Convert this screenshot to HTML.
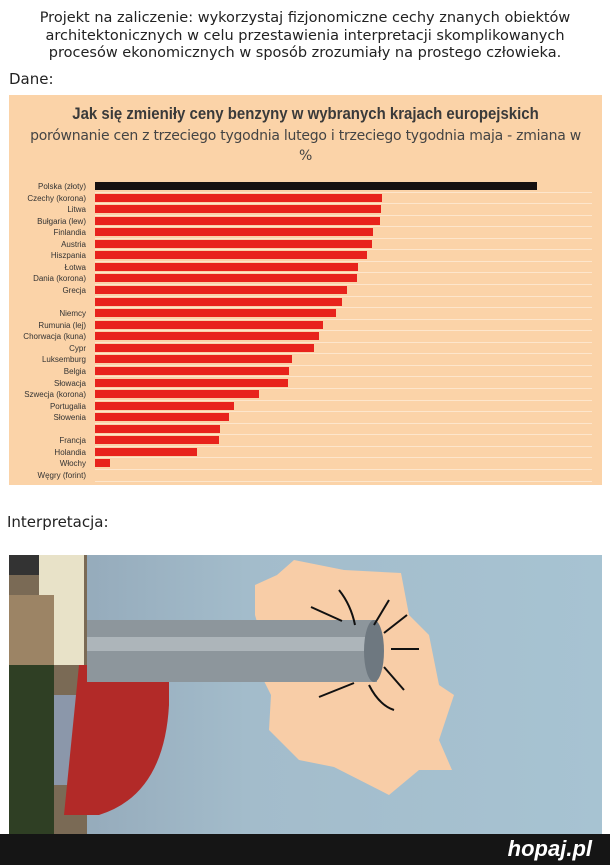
<!DOCTYPE html>
<html><head><meta charset="utf-8"><style>
body{margin:0;width:610px;height:865px;background:#fff;position:relative;overflow:hidden;font-family:"DejaVu Sans","Liberation Sans",sans-serif;}
.t{position:absolute;left:0;width:610px;text-align:center;font-size:14.5px;color:#222;line-height:17.5px;top:10px}
.lab{position:absolute;font-size:15px;color:#222}
#chart{position:absolute;left:9px;top:95px;width:593px;height:390px;background:#fbd3a8}
.h1{position:absolute;left:0;width:593px;text-align:center;top:9px;font:bold 17px "Liberation Sans",sans-serif;color:#3a3a3a;transform:scaleX(.88)}
.h2{position:absolute;left:0;width:593px;text-align:center;top:31px;font-size:14px;line-height:20px;color:#444;letter-spacing:-0.25px}
.row{position:absolute;left:0;height:11px;width:593px}
.row span{position:absolute;right:516px;font:8px "Liberation Sans",sans-serif;color:#333;top:1px;white-space:nowrap}
.row i{position:absolute;left:86px;top:1px;height:8px;background:#e8231c}
.row b{position:absolute;left:86px;right:10px;top:10.5px;height:1px;background:#fde6cc}
#photo{position:absolute;left:9px;top:555px;width:593px;height:280px;background:linear-gradient(90deg,#8fa3b4 0%,#a3bccb 40%,#a7c3d2 100%)}
#bar{position:absolute;left:0;top:834px;width:610px;height:31px;background:#151515}
</style></head><body>
<div class="t">Projekt na zaliczenie: wykorzystaj fizjonomiczne cechy znanych obiektów<br>architektonicznych w celu przestawienia interpretacji skomplikowanych<br>procesów ekonomicznych w sposób zrozumiały na prostego człowieka.</div>
<div class="lab" style="left:9px;top:70px">Dane:</div>
<div id="chart">
<div class="h1">Jak się zmieniły ceny benzyny w wybranych krajach europejskich</div>
<div class="h2">porównanie cen z trzeciego tygodnia lutego i trzeciego tygodnia maja - zmiana w<br>%</div>
</div>
<div class="lab" style="left:7px;top:513px">Interpretacja:</div>
<div id="photo">
<svg width="593" height="280" viewBox="0 0 593 280">
<rect x="0" y="0" width="78" height="280" fill="#7a6a55"/>
<rect x="0" y="0" width="30" height="20" fill="#333"/>
<rect x="30" y="0" width="45" height="110" fill="#e8e2c8"/>
<rect x="0" y="40" width="45" height="70" fill="#9c8465"/>
<rect x="0" y="110" width="45" height="170" fill="#2f3f24"/>
<rect x="45" y="140" width="30" height="90" fill="#8b97aa"/>
<path d="M70 110 H160 V150 Q155 240 90 260 H55 Z" fill="#b22a28"/>
<path d="M246 30 L268 20 L285 5 L335 15 L392 18 L400 60 L420 80 L430 130 L445 140 L430 185 L443 215 L410 215 L380 240 L325 212 L290 205 L260 175 L262 140 L252 120 L256 95 L246 60 Z" fill="#f8cda7"/>
<rect x="78" y="65" width="290" height="62" fill="#8d969c"/>
<rect x="78" y="82" width="290" height="14" fill="#c3cace" opacity=".6"/>
<ellipse cx="365" cy="96" rx="10" ry="31" fill="#6e7880"/>
<g stroke="#111" stroke-width="2" fill="none">
<path d="M330 35 Q342 50 346 70"/><path d="M302 52 L333 66"/><path d="M380 45 L365 70"/><path d="M398 60 L375 78"/>
<path d="M382 94 L410 94"/><path d="M375 112 L395 135"/><path d="M360 130 Q370 150 385 155"/><path d="M345 128 L310 142"/>
</g>
</svg>
</div>
<div id="bar"><span style="position:absolute;right:18px;top:2px;font:italic bold 22px 'Liberation Sans',sans-serif;color:#fff">hopaj.pl</span></div>
<script>
var d=[["Polska (złoty)",537,"#151010"],["Czechy (korona)",382],["Litwa",381],["Bułgaria (lew)",380],["Finlandia",373],["Austria",372],["Hiszpania",367],["Łotwa",358],["Dania (korona)",357],["Grecja",347],["",342],["Niemcy",336],["Rumunia (lej)",323],["Chorwacja (kuna)",319],["Cypr",314],["Luksemburg",292],["Belgia",289],["Słowacja",288],["Szwecja (korona)",259],["Portugalia",234],["Słowenia",229],["",220],["Francja",219],["Holandia",197],["Włochy",110],["Węgry (forint)",0]];
var c=document.getElementById('chart');
d.forEach(function(r,k){var e=document.createElement('div');e.className='row';e.style.top=(86+k*11.56)+'px';
var w=r[1]?r[1]-95:0;e.innerHTML='<span>'+r[0]+'</span><b></b>'+(w>0?'<i style="width:'+w+'px;background:'+(r[2]||'#e8231c')+'"></i>':'');c.appendChild(e);});
</script>
</body></html>
